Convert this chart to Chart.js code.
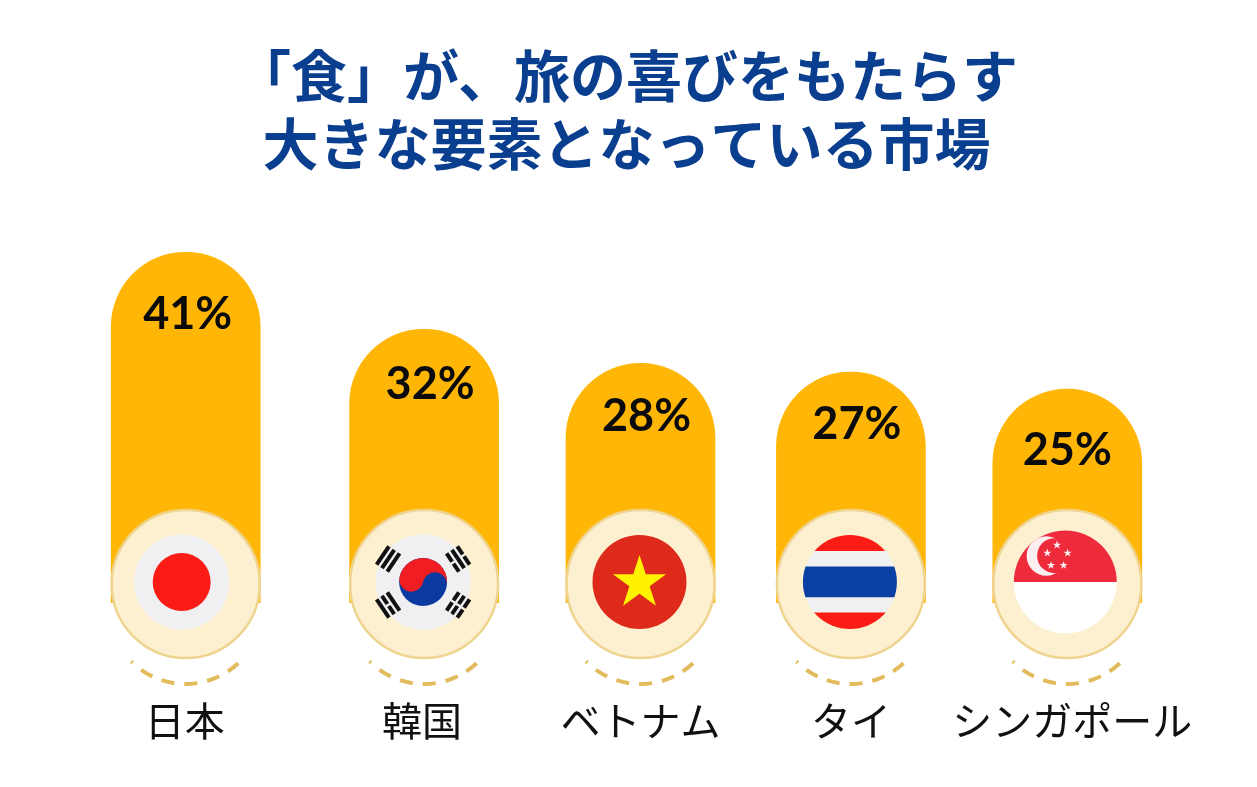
<!DOCTYPE html>
<html lang="ja">
<head>
<meta charset="utf-8">
<title>「食」が、旅の喜びをもたらす大きな要素となっている市場</title>
<style>
  html, body { margin: 0; padding: 0; background: #fff; }
  canvas { display: block; }
</style>
</head>
<body>
<canvas id="foodChart" width="1257" height="787"></canvas>
<script src="https://cdn.jsdelivr.net/npm/chart.js@4/dist/chart.umd.min.js"></script>
<script>
// ── Data ────────────────────────────────────────────────────────
const titleLines = ['「食」が、旅の喜びをもたらす', '大きな要素となっている市場'];
const categories = ['日本', '韓国', 'ベトナム', 'タイ', 'シンガポール'];
const flags = ['jp', 'kr', 'vn', 'th', 'sg'];
const shareValues = [41, 32, 28, 27, 25];

// ── Layout tweaks (the columns are not evenly spaced in the original) ──
const columnNudge = [0, 18, 14, 4, 0];
const tickNudge = [-1, -2, 0, 0, 5];
const labelNudgeX = [2, 6, 6, 6, 0];
const labelOffsetY = [62, 55, 53, 52, 61];
const flagNudgeX = [-4, -1, -1, -1, -2];

const GOLD = '#ffb606';
const RED = '#fb1c16';
const PALE = '#f0f0f2';
const BLUE = '#0a3fa3';

class NudgedCategory extends Chart.CategoryScale {
    static id = 'nudgedCategory';
    getPixelForValue(value, index) {
        const px = super.getPixelForValue(value, index);
        const i = typeof value === 'number' ? Math.round(value) : this.parse(value);
        return px + (columnNudge[i] || 0);
    }
    getPixelForTick(index) {
        return super.getPixelForTick(index) + (tickNudge[index] || 0);
    }
}
Chart.register(NudgedCategory);

function star(ctx, x, y, r, color) {
    ctx.beginPath();
    for (let i = 0; i < 10; i++) {
        const a = -Math.PI / 2 + i * Math.PI / 5;
        const d = i % 2 ? r * 0.382 : r;
        ctx.lineTo(x + Math.cos(a) * d, y + Math.sin(a) * d);
    }
    ctx.closePath();
    ctx.fillStyle = color;
    ctx.fill();
}

function disc(ctx, x, y, r, color) {
    ctx.beginPath();
    ctx.arc(x, y, r, 0, Math.PI * 2);
    ctx.fillStyle = color;
    ctx.fill();
}

// pattern is per line of a trigram: true = solid, false = broken
function trigram(ctx, x, y, angle, pattern) {
    ctx.save();
    ctx.translate(x, y);
    ctx.rotate(angle);
    ctx.fillStyle = '#111';
    pattern.forEach((solid, i) => {
        const ly = (i - 1) * 6.4 - 2;
        if (solid) {
            ctx.fillRect(-11, ly, 22, 4);
        } else {
            ctx.fillRect(-11, ly, 9.8, 4);
            ctx.fillRect(1.2, ly, 9.8, 4);
        }
    });
    ctx.restore();
}

const drawFlag = {
    jp(ctx, x, y) {
        disc(ctx, x, y, 47.5, PALE);
        disc(ctx, x, y, 29, RED);
    },
    kr(ctx, x, y) {
        disc(ctx, x, y, 47.5, PALE);
        const r = 24, tilt = 0.2;
        ctx.save();
        ctx.translate(x, y);
        ctx.rotate(tilt);
        disc(ctx, 0, 0, r, '#0a3aa0');
        ctx.beginPath();
        ctx.arc(0, 0, r, Math.PI, 0);
        ctx.arc(r / 2, 0, r / 2, 0, Math.PI, true);
        ctx.arc(-r / 2, 0, r / 2, 0, Math.PI, false);
        ctx.closePath();
        ctx.fillStyle = '#f01e23';
        ctx.fill();
        ctx.restore();
        trigram(ctx, x - 35, y - 23, -Math.PI / 180 * 56, [true, true, true]);
        trigram(ctx, x + 35, y - 23, Math.PI / 180 * 56, [false, true, false]);
        trigram(ctx, x - 35, y + 23, Math.PI / 180 * 56, [true, false, true]);
        trigram(ctx, x + 35, y + 23, -Math.PI / 180 * 56, [false, false, false]);
    },
    vn(ctx, x, y) {
        disc(ctx, x, y, 47, '#dd2a1b');
        star(ctx, x, y + 1, 28, '#fff200');
    },
    th(ctx, x, y) {
        ctx.save();
        ctx.beginPath();
        ctx.arc(x, y, 47, 0, Math.PI * 2);
        ctx.clip();
        const bands = [[-47, 16, RED], [-31, 15.5, PALE], [-15.5, 31, BLUE], [15.5, 15, PALE], [30.5, 17, RED]];
        bands.forEach(([top, h, color]) => {
            ctx.fillStyle = color;
            ctx.fillRect(x - 48, y + top, 96, h);
        });
        ctx.restore();
    },
    sg(ctx, x, y) {
        disc(ctx, x, y, 51.5, '#fff');
        ctx.save();
        ctx.beginPath();
        ctx.arc(x, y, 51.5, Math.PI, 0);
        ctx.closePath();
        ctx.clip();
        ctx.fillStyle = '#ee2b3b';
        ctx.fillRect(x - 52, y - 52, 104, 52);
        disc(ctx, x - 19, y - 26, 19.7, '#fdeef0');
        disc(ctx, x - 10.7, y - 26.3, 17.5, '#ee2b3b');
        [[-8.3, -37], [-18, -29], [2.3, -29], [-14.3, -16.7], [-1.7, -16.7]].forEach(([dx, dy]) => {
            star(ctx, x + dx, y + dy, 4.4, '#fdeef0');
        });
        ctx.restore();
    }
};

// ── Badges, dashed arcs and % labels, all placed from the bar elements ──
const badgePlugin = {
    id: 'badges',
    afterDatasetsDraw(chart) {
        const ctx = chart.ctx;
        const meta = chart.getDatasetMeta(0);
        meta.data.forEach((bar, i) => {
            const cx = bar.x;
            const cy = bar.base - 19;
            ctx.save();

            ctx.beginPath();
            ctx.arc(cx, cy, 74, 0, Math.PI * 2);
            ctx.fillStyle = '#fdf0d0';
            ctx.fill();
            ctx.lineWidth = 2.5;
            ctx.strokeStyle = '#efd48f';
            ctx.stroke();

            drawFlag[flags[i]](ctx, cx + flagNudgeX[i], cy - 2);

            ctx.beginPath();
            ctx.arc(cx, bar.base + 4, 77, Math.PI * 0.75, Math.PI * 0.25, true);
            ctx.lineWidth = 4;
            ctx.strokeStyle = '#e2bb5c';
            ctx.setLineDash([2, 11, 13, 10, 13, 10, 13, 10, 13, 10, 13, 20]);
            ctx.stroke();
            ctx.setLineDash([]);

            ctx.fillStyle = '#0b0b0b';
            ctx.font = 'bold 45px Lato, sans-serif';
            ctx.textAlign = 'center';
            ctx.textBaseline = 'middle';
            ctx.fillText(shareValues[i] + '%', cx + labelNudgeX[i], bar.y + labelOffsetY[i]);
            ctx.restore();
        });
    }
};

new Chart(document.getElementById('foodChart'), {
    type: 'bar',
    data: {
        labels: categories,
        datasets: [{
            data: shareValues,
            backgroundColor: GOLD,
            barThickness: 149,
            borderWidth: 0,
            borderSkipped: false,
            borderRadius: { topLeft: 75, topRight: 75, bottomLeft: 0, bottomRight: 0 }
        }]
    },
    options: {
        responsive: false,
        animation: false,
        layout: { padding: { left: 75.5, right: 79.5, top: 0, bottom: 0 } },
        plugins: {
            legend: { display: false },
            tooltip: { enabled: false },
            title: {
                display: true,
                text: titleLines,
                color: '#0a3f8f',
                font: { family: "'Noto Sans CJK JP', sans-serif", size: 56, weight: 'bold', lineHeight: 68 / 56 },
                padding: { top: 42, bottom: 40 }
            }
        },
        scales: {
            x: {
                type: 'nudgedCategory',
                border: { display: false },
                grid: { display: false, drawTicks: false },
                ticks: {
                    color: '#111',
                    padding: 94,
                    maxRotation: 0,
                    autoSkip: false,
                    font: { family: "'Noto Sans CJK JP', sans-serif", size: 40 }
                },
                afterFit(scale) {
                    scale.height = 184;
                    scale.paddingLeft = 0;
                    scale.paddingRight = 0;
                }
            },
            y: { display: false, min: 0, max: 45 }
        }
    },
    plugins: [badgePlugin]
});
</script>
</body>
</html>
